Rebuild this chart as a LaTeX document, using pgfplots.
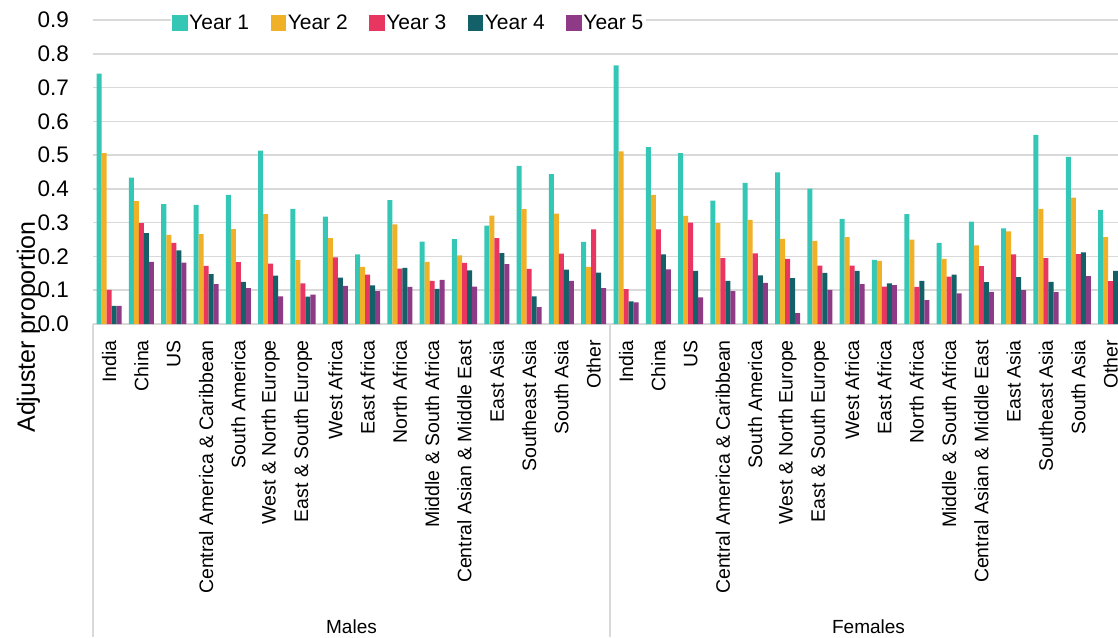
\documentclass[border=0pt]{standalone}
\usepackage{pgfplots}
\pgfplotsset{compat=1.18}
\usepackage{pgfplotstable}
\usepackage{fontspec}
\setmainfont{Liberation Sans}

\definecolor{yrA}{HTML}{34C7B6}
\definecolor{yrB}{HTML}{F0B028}
\definecolor{yrC}{HTML}{E83660}
\definecolor{yrD}{HTML}{146068}
\definecolor{yrE}{HTML}{8E3A86}
\definecolor{gridgray}{HTML}{D9D9D9}

% 0-15 males, 16-31 females
\pgfplotstableread{
x  y1    y2    y3    y4    y5
0  0.741 0.506 0.101 0.054 0.054
1  0.433 0.364 0.299 0.269 0.184
2  0.355 0.264 0.240 0.218 0.182
3  0.353 0.266 0.172 0.148 0.118
4  0.382 0.281 0.183 0.125 0.106
5  0.513 0.325 0.179 0.143 0.082
6  0.341 0.189 0.120 0.081 0.087
7  0.318 0.254 0.197 0.137 0.113
8  0.206 0.169 0.146 0.114 0.097
9  0.367 0.295 0.164 0.166 0.110
10 0.244 0.184 0.128 0.104 0.131
11 0.251 0.203 0.181 0.159 0.111
12 0.291 0.321 0.254 0.210 0.177
13 0.468 0.340 0.163 0.082 0.050
14 0.444 0.327 0.208 0.161 0.128
15 0.243 0.169 0.280 0.152 0.106
16 0.766 0.511 0.103 0.067 0.064
17 0.524 0.382 0.280 0.206 0.162
18 0.506 0.320 0.300 0.157 0.079
19 0.365 0.299 0.195 0.128 0.097
20 0.418 0.308 0.209 0.144 0.122
21 0.449 0.252 0.193 0.136 0.032
22 0.401 0.246 0.173 0.151 0.101
23 0.311 0.257 0.173 0.157 0.118
24 0.190 0.187 0.111 0.120 0.115
25 0.325 0.250 0.110 0.128 0.071
26 0.240 0.193 0.140 0.146 0.091
27 0.303 0.233 0.171 0.124 0.095
28 0.283 0.274 0.206 0.139 0.100
29 0.560 0.341 0.195 0.125 0.094
30 0.495 0.374 0.207 0.212 0.142
31 0.338 0.257 0.127 0.157 0.100
}\adjtable

\begin{document}
\begin{tikzpicture}
\begin{axis}[
    name=ax,
    at={(93pt,313pt)}, anchor=south west,
    scale only axis,
    width=1025pt, height=304pt,
    xmin=-0.5, xmax=31.23,
    ymin=0, ymax=0.9,
    ytick={0,0.1,...,0.9},
    yticklabel style={/pgf/number format/.cd, fixed, fixed zerofill, precision=1, /tikz/.cd,
        font=\fontsize{22.5}{27}\selectfont, inner sep=0pt, xshift=-24pt},
    /pgf/number format/assume math mode=true,
    xtick={0,...,31},
    xticklabels={India, China, US, Central America \& Caribbean, South America, West \& North Europe, East \& South Europe, West Africa, East Africa, North Africa, Middle \& South Africa, Central Asian \& Middle East, East Asia, Southeast Asia, South Asia, Other,
        India, China, US, Central America \& Caribbean, South America, West \& North Europe, East \& South Europe, West Africa, East Africa, North Africa, Middle \& South Africa, Central Asian \& Middle East, East Asia, Southeast Asia, South Asia, Other},
    xticklabel style={yshift=-16pt, rotate=90, anchor=east, inner sep=0pt,
        font=\fontsize{19.5}{23}\selectfont},
    major tick length=0pt,
    axis x line*=bottom,
    axis y line*=left,
    x axis line style={gridgray, line width=1.5pt, -},
    y axis line style={draw=none},
    ymajorgrids,
    grid style={gridgray, line width=1.5pt},
    every axis y label/.style={at={(axis description cs:-0.063,-0.01)}, rotate=90, anchor=center,
        font=\fontsize{25}{30}\selectfont},
    ylabel={Adjuster proportion},
    legend columns=5,
    legend style={at={(rel axis cs:0.3078,0.99)}, anchor=center, draw=none, fill=white,
        inner sep=1pt, nodes={inner sep=1.5pt},
        font=\fontsize{21}{25}\selectfont,
        /tikz/every even column/.append style={column sep=20pt}},
    legend image code/.code={\fill[#1] (0pt,-7.8pt) rectangle (15.6pt,7.8pt);},
]
\addplot[ybar, bar width=0.155, bar shift=-0.31, fill=yrA, draw=none] table[x=x, y=y1]{\adjtable};
\addplot[ybar, bar width=0.155, bar shift=-0.155, fill=yrB, draw=none] table[x=x, y=y2]{\adjtable};
\addplot[ybar, bar width=0.155, bar shift=0, fill=yrC, draw=none] table[x=x, y=y3]{\adjtable};
\addplot[ybar, bar width=0.155, bar shift=0.155, fill=yrD, draw=none] table[x=x, y=y4]{\adjtable};
\addplot[ybar, bar width=0.155, bar shift=0.31, fill=yrE, draw=none] table[x=x, y=y5]{\adjtable};
\legend{Year 1, Year 2, Year 3, Year 4, Year 5}
\end{axis}
% two-level category bracket
\draw[gridgray, line width=1.5pt] (93pt,313pt) -- (93pt,0pt);
\draw[gridgray, line width=1.5pt] (610pt,313pt) -- (610pt,0pt);
\node[anchor=base, inner sep=0pt, font=\fontsize{19}{23}\selectfont] at (351.5pt,4pt) {Males};
\node[anchor=base, inner sep=0pt, font=\fontsize{19}{23}\selectfont] at (868.5pt,4pt) {Females};
\pgfresetboundingbox
\path[use as bounding box] (0pt,0pt) rectangle (1118pt,637pt);
\end{tikzpicture}
\end{document}
